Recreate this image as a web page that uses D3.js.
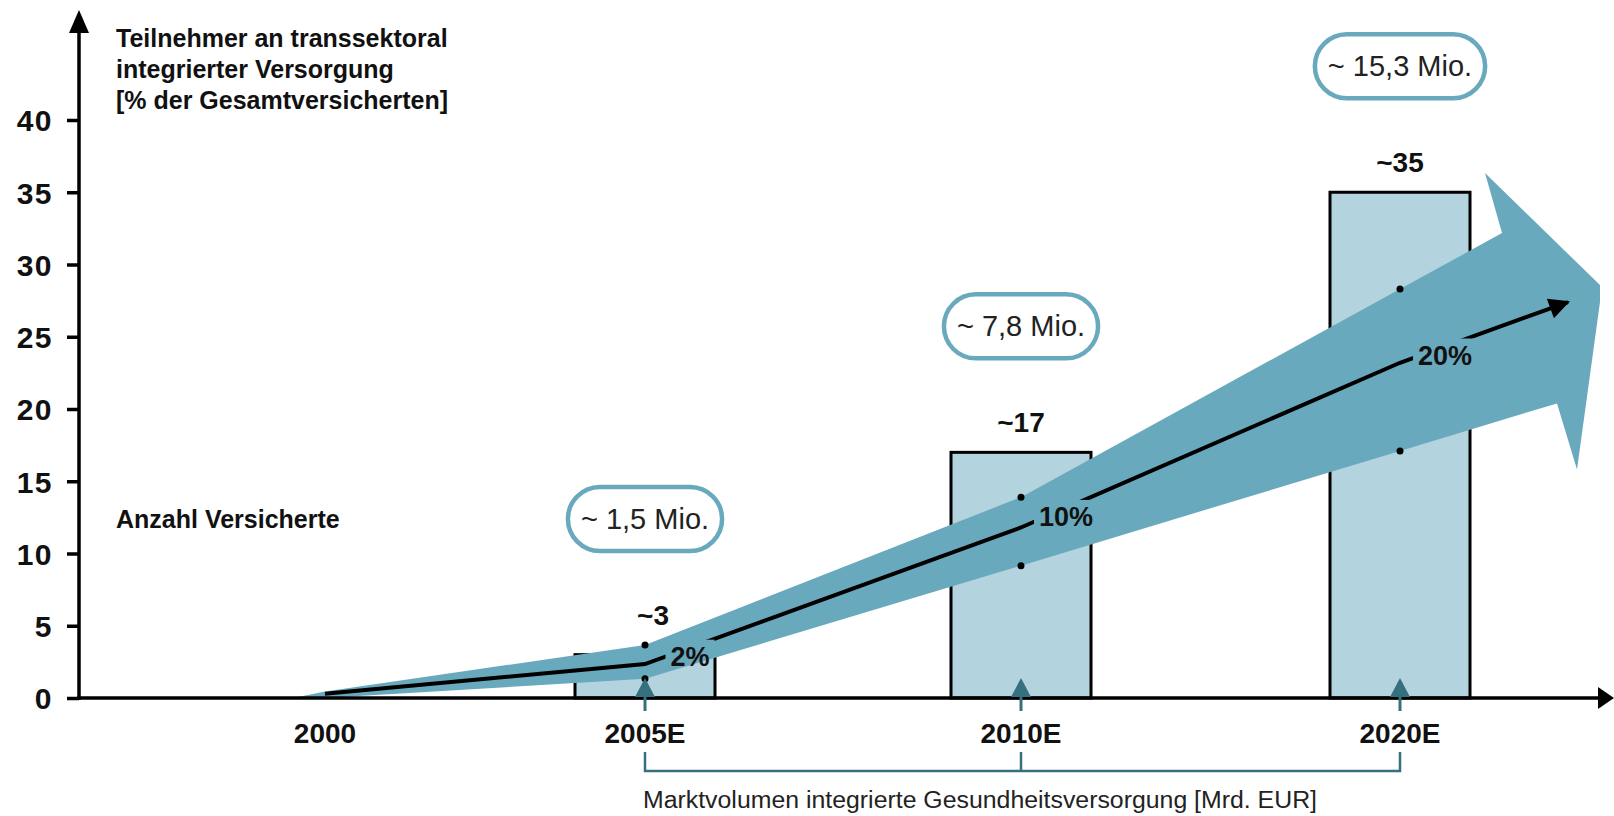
<!DOCTYPE html>
<html>
<head>
<meta charset="utf-8">
<script src="https://cdn.jsdelivr.net/npm/d3@7"></script>
<style>
  body { margin: 0; background: #fff; }
  svg { display: block; }
  text { font-family: "Liberation Sans", Arial, sans-serif; }
</style>
</head>
<body>
<svg id="chart" width="1614" height="816"></svg>
<script>
// ---- data ----
const categories   = ["2000", "2005E", "2010E", "2020E"];
const barValues    = [null, 3, 17, 35];
const barLabels    = [null, "~3", "~17", "~35"];
const insuredLabels = [null, "~ 1,5 Mio.", "~ 7,8 Mio.", "~ 15,3 Mio."];
const growthLabels = [null, "2%", "10%", "20%"];
const trendCenter  = [0.3, 2.35, 11.8, 23.2];
const bandUpper    = [0.45, 3.67, 13.9, 28.3];
const bandLower    = [0, 1.33, 9.16, 17.1];
const trendEnd     = 27.4;
const yTicks       = [0, 5, 10, 15, 20, 25, 30, 35, 40];
const yTitle       = ["Teilnehmer an transsektoral", "integrierter Versorgung", "[% der Gesamtversicherten]"];
const sideNote     = "Anzahl Versicherte";
const marketNote   = "Marktvolumen integrierte Gesundheitsversorgung [Mrd. EUR]";

// ---- layout ----
const W = 1614, H = 816;
const axisX = 79, axisY = 698;
const ribbonColor = "#69a9bd";
const barColor = "#b3d3de";
const darkTeal = "#36707f";

const svg = d3.select("#chart");
const x = d3.scaleOrdinal(categories, [325, 645, 1021, 1400]);
const y = d3.scaleLinear([0, 40], [axisY, 120]);
const barWidth = 140;

const defs = svg.append("defs");
defs.append("marker")
  .attr("id", "trendHead").attr("viewBox", "0 0 10 10")
  .attr("refX", 9).attr("refY", 5)
  .attr("markerWidth", 6).attr("markerHeight", 5.2)
  .attr("markerUnits", "strokeWidth").attr("orient", "auto")
  .append("path").attr("d", "M0,0 L10,5 L0,10 Z").attr("fill", "#000");

// ---- bars ----
const idx = d3.range(categories.length);
const barIdx = idx.filter(i => barValues[i] != null);
svg.append("g").selectAll("rect").data(barIdx).join("rect")
  .attr("x", i => x(categories[i]) - barWidth / 2)
  .attr("y", i => y(barValues[i]))
  .attr("width", barWidth)
  .attr("height", i => y(0) - y(barValues[i]))
  .attr("fill", barColor)
  .attr("stroke", "#000").attr("stroke-width", 3);

// ---- growth ribbon (wide arrow) ----
const last = categories.length - 1;
const px = i => x(categories[i]);
const slopeU = (y(bandUpper[last]) - y(bandUpper[last - 1])) / (px(last) - px(last - 1));
const slopeL = (y(bandLower[last]) - y(bandLower[last - 1])) / (px(last) - px(last - 1));
const notchU = [px(last) + 102, y(bandUpper[last]) + slopeU * 102];
const notchL = [px(last) + 157, y(bandLower[last]) + slopeL * 157];
const barbTop = [notchU[0] - 17, notchU[1] - 60];
const tip1 = [notchU[0] + 98, notchU[1] + 52];
const tip2 = [tip1[0], tip1[1] + 17];
const barbBottom = [notchL[0] + 20, notchL[1] + 66];
const tail = [px(0) - 32, y(0)];

const ribbonPts = [tail]
  .concat(idx.map(i => [px(i), y(bandUpper[i])]))
  .concat([notchU, barbTop, tip1, tip2, barbBottom, notchL])
  .concat(idx.slice().reverse().map(i => [px(i), y(bandLower[i])]));
svg.append("path")
  .attr("d", d3.line()(ribbonPts) + "Z")
  .attr("fill", ribbonColor);

// ---- band edge dots ----
const dotG = svg.append("g");
barIdx.forEach(i => {
  [bandUpper[i], bandLower[i]].forEach(v => {
    dotG.append("circle").attr("cx", px(i)).attr("cy", y(v)).attr("r", 3.5).attr("fill", "#000");
  });
});

// ---- growth labels ----
const trendPts = idx.map(i => [px(i), y(trendCenter[i])])
  .concat([[px(last) + 168, y(trendEnd)]]);
function lineYAt(xv) {
  for (let k = 0; k < trendPts.length - 1; k++) {
    const a = trendPts[k], b = trendPts[k + 1];
    if (xv >= a[0] && xv <= b[0]) return a[1] + (b[1] - a[1]) * (xv - a[0]) / (b[0] - a[0]);
  }
  return trendPts[trendPts.length - 1][1];
}
const gLabelG = svg.append("g");
const growthNodes = barIdx.map(i => {
  const lx = px(i) + 45;
  return gLabelG.append("text")
    .attr("x", lx).attr("y", lineYAt(lx) + 18)
    .attr("text-anchor", "middle")
    .attr("font-size", 27).attr("font-weight", "bold").attr("fill", "#111")
    .text(growthLabels[i]).node();
});

// mask keeps the trend line clear of the percentage labels
const mask = defs.append("mask").attr("id", "labelGap").attr("maskUnits", "userSpaceOnUse")
  .attr("x", 0).attr("y", 0).attr("width", W).attr("height", H);
mask.append("rect").attr("width", W).attr("height", H).attr("fill", "#fff");
growthNodes.forEach(n => {
  const b = n.getBBox();
  mask.append("rect").attr("x", b.x - 5).attr("y", b.y - 2)
    .attr("width", b.width + 10).attr("height", b.height + 4).attr("fill", "#000");
});

svg.append("path")
  .attr("d", d3.line()(trendPts))
  .attr("fill", "none").attr("stroke", "#000").attr("stroke-width", 4)
  .attr("mask", "url(#labelGap)")
  .attr("marker-end", "url(#trendHead)");
gLabelG.raise();

// ---- axes ----
const yAxis = svg.append("g").attr("transform", `translate(${axisX},0)`)
  .call(d3.axisLeft(y).tickValues(yTicks).tickSize(12).tickPadding(14));
yAxis.select(".domain").remove();
yAxis.selectAll(".tick line").attr("stroke", "#000").attr("stroke-width", 3.5);
yAxis.selectAll(".tick text")
  .attr("font-family", "'Liberation Sans', Arial, sans-serif")
  .attr("font-size", 30).attr("font-weight", "bold").attr("fill", "#111")
  .attr("letter-spacing", 1.5)
  .attr("dy", "0.36em");

svg.append("line").attr("x1", axisX).attr("x2", axisX).attr("y1", axisY + 2).attr("y2", 30)
  .attr("stroke", "#000").attr("stroke-width", 3.5);
svg.append("path").attr("d", `M${axisX - 10},33 L${axisX},10 L${axisX + 10},33 Z`).attr("fill", "#000");

svg.append("line").attr("x1", axisX - 2).attr("x2", 1602).attr("y1", axisY).attr("y2", axisY)
  .attr("stroke", "#000").attr("stroke-width", 3.5);
svg.append("path").attr("d", `M1598,${axisY - 11} L1614,${axisY} L1598,${axisY + 11} Z`).attr("fill", "#000");

// category labels
svg.append("g").selectAll("text").data(idx).join("text")
  .attr("x", i => px(i)).attr("y", 743)
  .attr("text-anchor", "middle")
  .attr("font-size", 28).attr("font-weight", "bold").attr("fill", "#111")
  .text(i => categories[i]);

// small teal markers pointing up from the axis
const markG = svg.append("g");
barIdx.forEach(i => {
  const cx = px(i);
  markG.append("line").attr("x1", cx).attr("x2", cx).attr("y1", axisY - 4).attr("y2", axisY + 13)
    .attr("stroke", darkTeal).attr("stroke-width", 3);
  markG.append("path").attr("d", `M${cx - 10},${axisY - 1} L${cx},${axisY - 20} L${cx + 10},${axisY - 1} Z`)
    .attr("fill", darkTeal);
});

// bracket for the market volume
const brY = 771;
const brG = svg.append("g").attr("stroke", darkTeal).attr("stroke-width", 2.5).attr("fill", "none");
brG.append("path").attr("d", `M${px(1)},752 L${px(1)},${brY} L${px(last)},${brY} L${px(last)},752`);
brG.append("line").attr("x1", px(2)).attr("x2", px(2)).attr("y1", 752).attr("y2", brY);
svg.append("text").attr("x", px(1) - 2).attr("y", 808)
  .attr("font-size", 23).attr("fill", "#222")
  .attr("textLength", 674).attr("lengthAdjust", "spacingAndGlyphs")
  .text(marketNote);

// ---- value labels and insured-count bubbles ----
barIdx.forEach(i => {
  const base = Math.min(y(barValues[i]), y(bandUpper[i])) - 20;
  svg.append("text").attr("x", px(i) + (i === 1 ? 8 : 0)).attr("y", base)
    .attr("text-anchor", "middle")
    .attr("font-size", 28).attr("font-weight", "bold").attr("fill", "#111")
    .text(barLabels[i]);

  const cy = base - 106;
  const t = svg.append("text").attr("x", px(i)).attr("y", cy + 10)
    .attr("text-anchor", "middle")
    .attr("font-size", 29).attr("fill", "#222")
    .text(insuredLabels[i]);
  const bw = t.node().getComputedTextLength() + 26, bh = 64;
  svg.insert("rect", () => t.node())
    .attr("x", px(i) - bw / 2).attr("y", cy - bh / 2)
    .attr("width", bw).attr("height", bh).attr("rx", bh / 2)
    .attr("fill", "#fff").attr("stroke", "#69a9be").attr("stroke-width", 4.5);
});

// ---- annotations ----
svg.append("g").selectAll("text").data(yTitle).join("text")
  .attr("x", 116).attr("y", (d, k) => 47 + k * 31)
  .attr("font-size", 25).attr("font-weight", "bold").attr("fill", "#111")
  .text(d => d);
svg.append("text").attr("x", 116).attr("y", 528)
  .attr("font-size", 25).attr("font-weight", "bold").attr("fill", "#111")
  .text(sideNote);
</script>
</body>
</html>
